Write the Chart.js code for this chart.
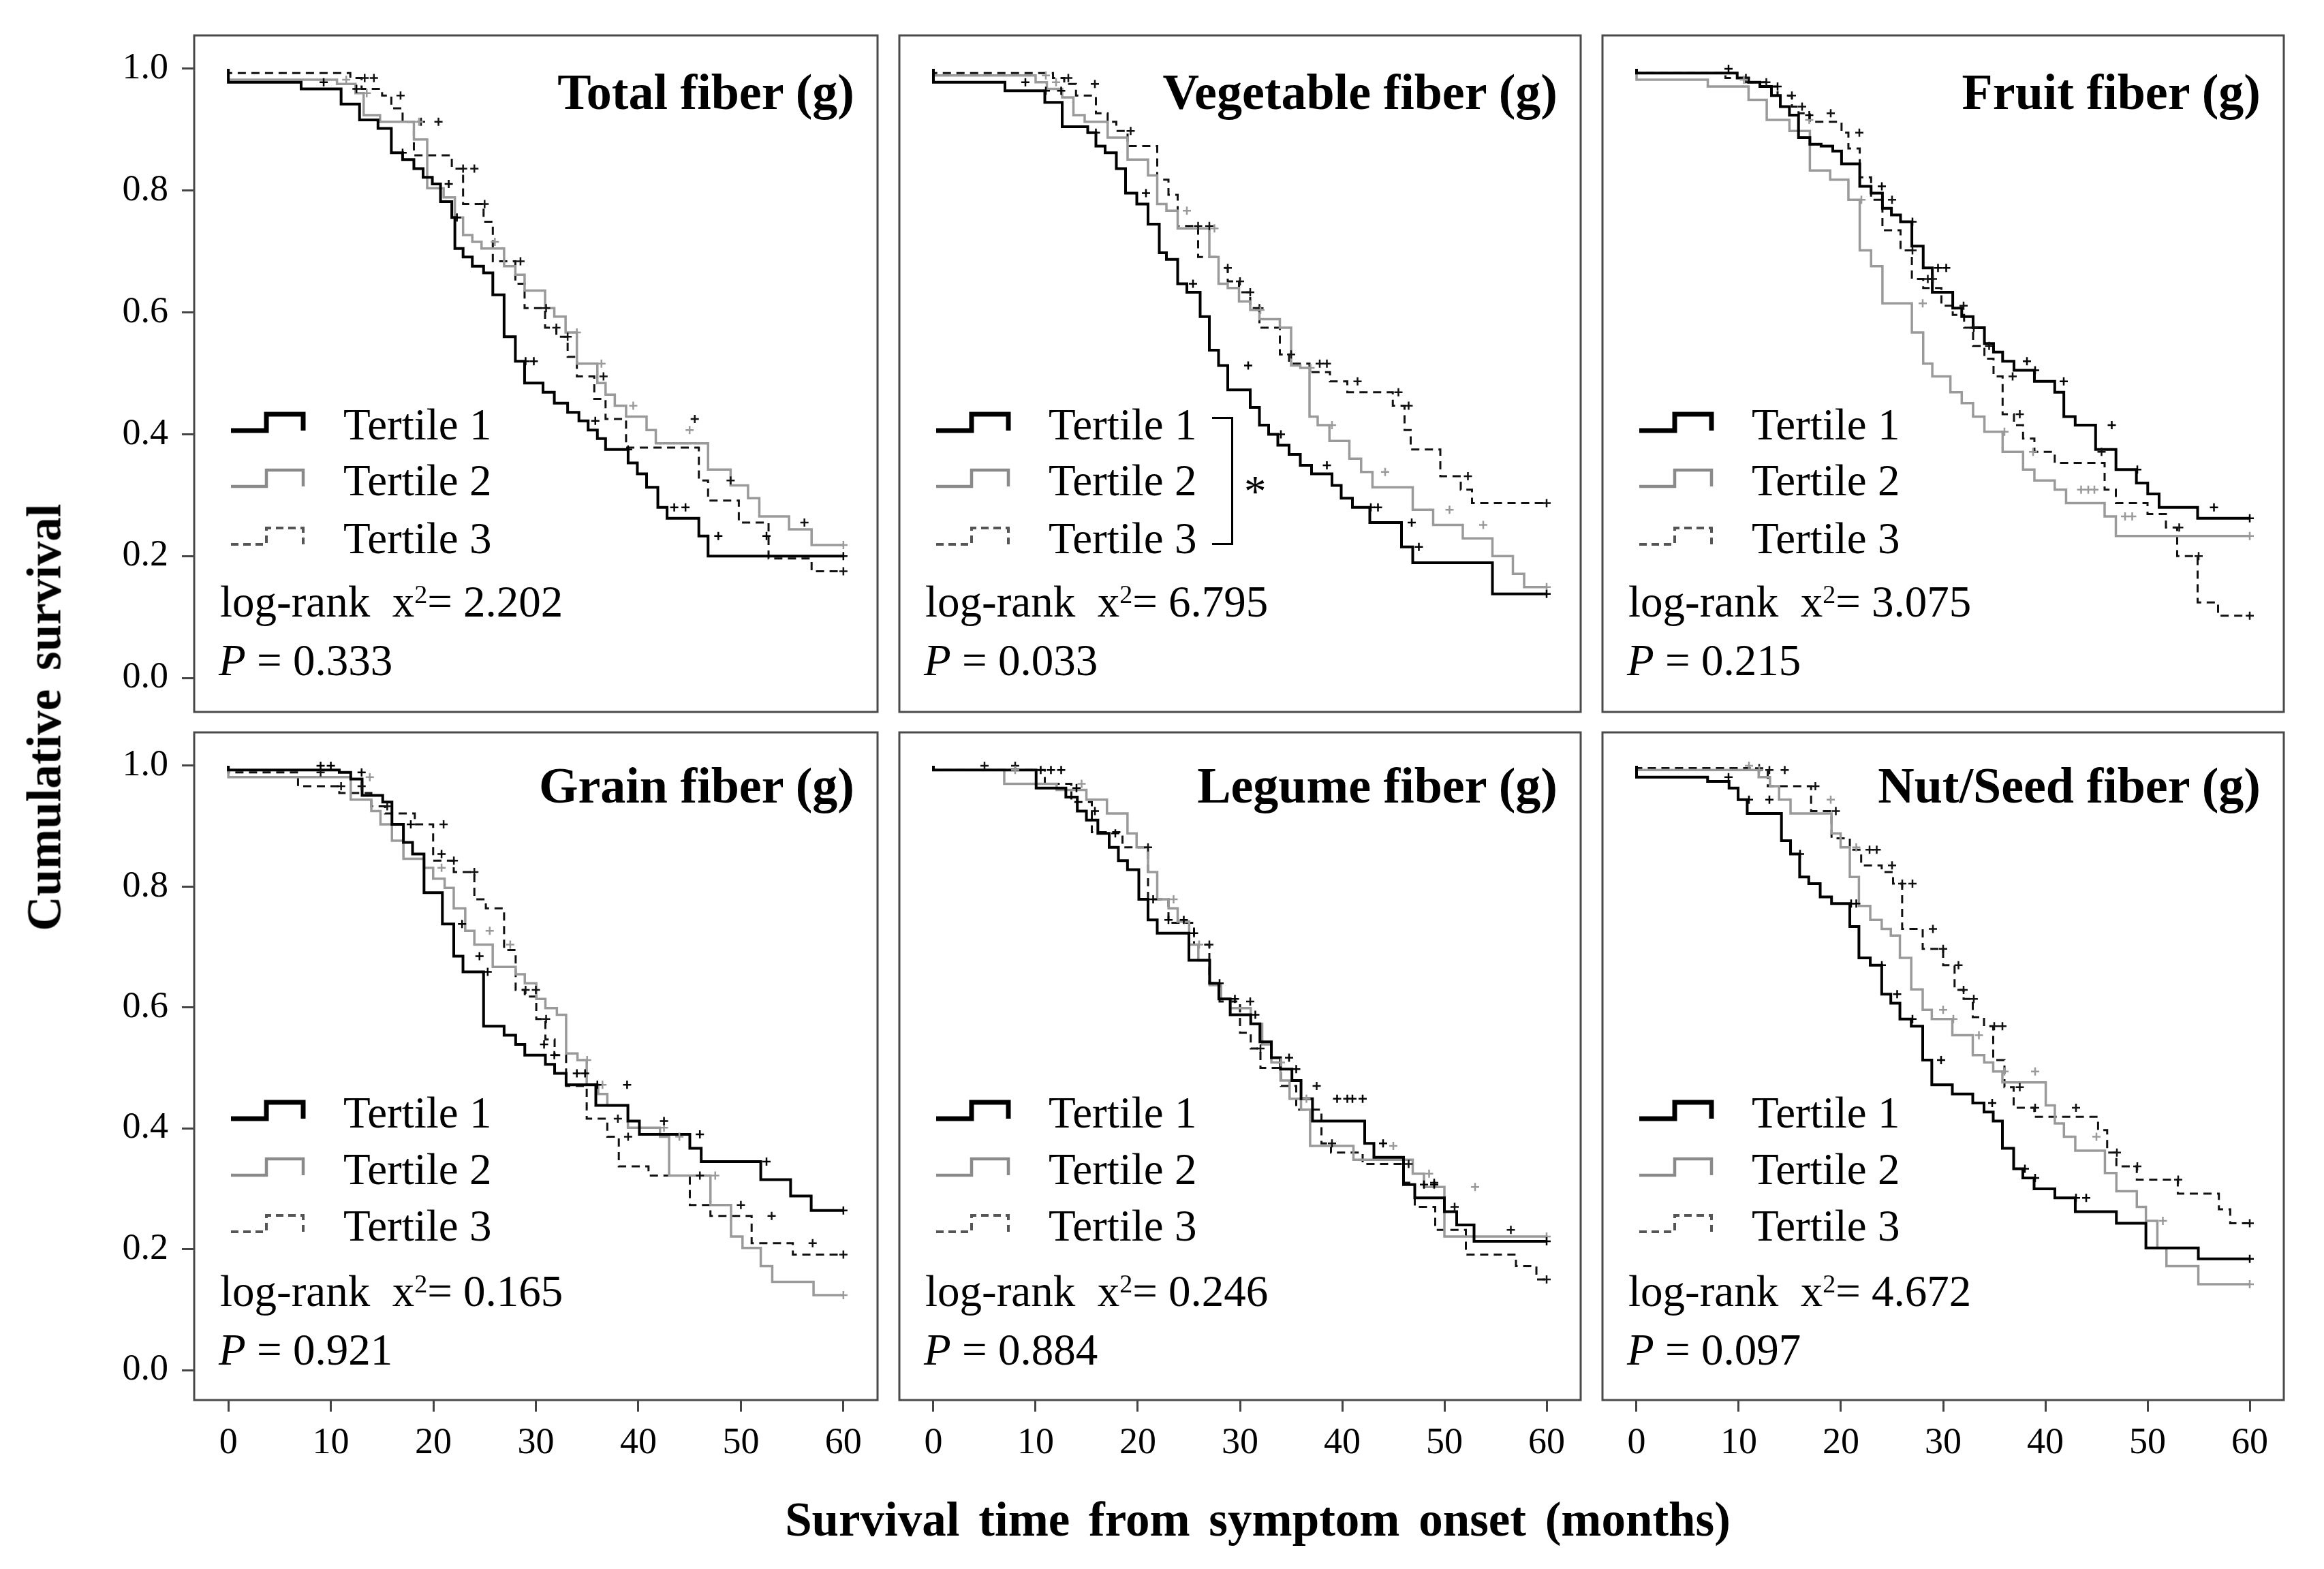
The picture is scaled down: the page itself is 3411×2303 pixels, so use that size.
<!DOCTYPE html>
<html>
<head>
<meta charset="utf-8">
<title>Cumulative survival by dietary fiber tertiles</title>
<script src="https://cdn.jsdelivr.net/npm/chart.js@4.4.1/dist/chart.umd.min.js"></script>
<style>
  html, body { margin:0; padding:0; background:#fff; }
  body { width:3411px; height:2303px; position:relative; overflow:hidden;
         font-family:'Liberation Serif','Times New Roman',serif; color:#000; }
  canvas.panel { position:absolute; }
  .t { position:absolute; white-space:pre; line-height:1; }
  .title { font-weight:bold; font-size:74px; text-align:right; }
  .leg, .stat { font-size:65px; }
  .sup { font-size:38px; vertical-align:20px; line-height:0; }
  .axt { font-weight:bold; font-size:71px; word-spacing:10px; }
  .bracket { position:absolute; border:3px solid #000; border-left:none; box-sizing:border-box; }
</style>
</head>
<body>
<script>
// ---------------- DATA ----------------
const xTickValues = [0, 10, 20, 30, 40, 50, 60];
const yTickValues = [0, 0.2, 0.4, 0.6, 0.8, 1.0];
const panelTitles = ['Total fiber (g)', 'Vegetable fiber (g)', 'Fruit fiber (g)',
                     'Grain fiber (g)', 'Legume fiber (g)', 'Nut/Seed fiber (g)'];
const seriesNames = ['Tertile 1', 'Tertile 2', 'Tertile 3'];
const chiSquare = ['2.202', '6.795', '3.075', '0.165', '0.246', '4.672'];
const pValues   = ['0.333', '0.033', '0.215', '0.921', '0.884', '0.097'];
const xAxisTitle = 'Survival time from symptom onset (months)';
const yAxisTitle = 'Cumulative survival';

// Total fiber
const totalT1Time = [0,7.1,11.0,12.8,14.6,15.9,17.0,18.1,19.0,19.9,20.7,21.8,22.1,22.9,23.8,24.9,25.8,26.9,28.0,28.9,30.7,31.8,33.1,34.2,35.1,36.0,36.8,39.0,39.9,40.8,41.9,42.8,45.9,46.8,54.7,60];
const totalT1Surv = [1,.978,.967,.942,.916,.902,.862,.851,.836,.822,.811,.782,.756,.705,.691,.676,.665,.629,.56,.52,.484,.469,.451,.436,.422,.407,.393,.375,.353,.335,.313,.28,.262,.233,.2,.2];
const totalT1Cens = [9.3,12.5,17.0,21.5,22.3,29.0,29.8,35.8,39.0,43.5,44.6,47.8,52.5,60];
const totalT2Time = [0,10.6,12.4,13.2,14.8,18.1,19.4,21.0,22.1,22.9,23.8,24.7,26.9,28.0,28.9,30.9,31.8,32.9,34.0,36.0,36.8,37.7,38.8,40.8,41.7,46.8,49.0,50.7,51.8,54.7,56.9,59.8,60];
const totalT2Surv = [1,.982,.975,.96,.924,.913,.884,.804,.789,.756,.727,.716,.705,.676,.662,.636,.607,.593,.567,.516,.484,.465,.447,.429,.407,.385,.342,.316,.295,.265,.244,.218,.218];
const totalT2Cens = [11.5,13.5,18.6,26.0,34.0,36.4,39.5,45.0,60];
const totalT3Time = [0,11.9,13.0,15.0,15.9,17.0,18.1,21.8,22.9,24.9,25.8,28.0,28.9,30.9,32.0,33.1,34.0,35.7,36.8,38.8,45.9,46.8,49.8,52.7,56.9,57.8,60];
const totalT3Surv = [1,.993,.985,.967,.956,.935,.913,.858,.836,.778,.749,.684,.647,.607,.575,.56,.527,.495,.458,.425,.378,.324,.291,.255,.196,.175,.175];
const totalT3Cens = [13.3,14.2,16.8,18.8,20.5,22.9,24.0,25.0,28.5,31.0,32.0,33.1,36.6,45.5,49.0,56.2,60];

// Vegetable fiber
const vegT1Time = [0,7.0,10.9,12.6,15.1,15.9,16.8,17.9,18.8,19.9,21.0,22.1,22.8,23.9,24.8,26.1,27.0,27.9,28.8,31.0,31.9,32.8,33.7,34.8,35.9,37.0,39.0,39.9,41.0,42.7,45.8,46.9,54.7,56.7,60];
const vegT1Surv = [1,.978,.964,.945,.905,.895,.873,.862,.836,.796,.778,.745,.698,.687,.647,.633,.593,.538,.513,.473,.444,.415,.40,.382,.367,.349,.335,.316,.295,.28,.255,.215,.189,.138,.138];
const vegT1Cens = [9.0,11.0,12.5,15.9,20.8,25.4,30.8,34.0,38.5,42.8,43.5,46.8,47.5,60];
const vegT2Time = [0,10.0,11.1,12.6,13.7,14.8,17.05,19.0,21.0,21.9,22.8,23.9,27.0,27.9,28.8,29.9,31.0,31.9,33.9,35.0,35.9,36.8,37.6,38.75,40.7,41.85,42.96,46.9,48.9,51.8,54.7,56.7,57.8,59.8,60];
const vegT2Surv = [1,.989,.978,.967,.953,.924,.913,.887,.851,.825,.778,.767,.738,.691,.647,.64,.618,.604,.589,.575,.513,.509,.429,.415,.389,.36,.338,.313,.276,.251,.229,.2,.171,.149,.149];
const vegT2Cens = [11.0,12.0,24.8,27.5,32.0,36.9,39.0,44.2,50.5,53.8,60];
const vegT3Time = [0,11.7,12.8,13.95,15.9,17.05,17.9,19.0,21.9,23.0,23.9,25.9,27.9,28.8,29.9,31.0,31.9,33.9,34.8,36.8,38.8,40.5,44.95,46.1,46.7,49.6,51.6,52.7,54.7,60];
const vegT3Surv = [1,.993,.985,.975,.956,.927,.913,.898,.873,.818,.793,.742,.691,.673,.651,.633,.607,.575,.531,.516,.502,.487,.469,.447,.407,.375,.331,.309,.287,.287];
const vegT3Cens = [13.2,15.8,19.3,25.9,27.0,28.8,30.0,31.0,31.9,35.0,37.8,38.5,41.5,45.5,46.5,52.3,60];

// Fruit fiber
const fruitT1Time = [0,9.85,10.96,12.07,13.2,14.07,14.96,15.85,16.96,18.06,19.2,20.06,21.84,22.95,24.06,24.94,25.83,26.94,28.05,28.94,30.94,31.82,32.93,34.04,34.93,35.82,36.93,38.93,40.92,41.81,42.92,44.92,46.91,48.91,50.02,51.13,54.9,59.8,60];
const fruitT1Surv = [1,.993,.985,.978,.971,.956,.938,.924,.887,.876,.873,.865,.844,.807,.796,.771,.76,.749,.709,.673,.633,.607,.593,.575,.549,.535,.52,.505,.487,.469,.429,.415,.375,.342,.32,.302,.28,.262,.262];
const fruitT1Cens = [9.0,13.8,16.9,24.0,27.0,29.5,30.3,38.2,39.0,41.8,46.5,49.0,56.5,60];
const fruitT2Time = [0,6.97,10.96,12.74,14.96,16.96,18.95,20.73,21.84,22.95,24.06,26.94,28.05,28.94,30.71,31.82,32.93,34.04,35.82,37.82,38.93,40.92,42.03,45.8,46.9,51.8,60];
const fruitT2Surv = [1,.982,.971,.949,.916,.898,.833,.818,.785,.702,.676,.615,.567,.516,.495,.469,.451,.429,.404,.371,.342,.324,.309,.287,.265,.233,.233];
const fruitT2Cens = [10.5,16.9,22.0,28.0,36.0,38.8,43.5,44.2,44.8,47.8,48.5,60];
const fruitT3Time = [0,8.7,10.7,12.7,13.8,15.2,15.85,16.96,20.06,20.73,21.84,22.95,24.06,25.83,26.94,28.05,29.83,30.94,32.05,32.93,34.04,34.93,35.82,36.93,37.82,38.93,40.92,45.8,46.9,50.0,51.8,52.9,54.9,56.9,57.8,60];
const fruitT3Surv = [1,.993,.985,.978,.971,.956,.938,.927,.913,.895,.869,.822,.785,.735,.702,.655,.64,.611,.596,.575,.545,.524,.495,.433,.415,.393,.371,.353,.309,.287,.269,.247,.2,.124,.102,.102];
const fruitT3Cens = [10.7,12.7,15.2,16.2,19.0,21.8,25.0,27.0,28.5,29.0,32.0,33.0,34.5,36.8,37.5,45.5,53.1,55.0,60];

// Grain fiber
const grainT1Time = [0,10.82,11.94,13.05,15.06,15.96,17.08,17.97,19.09,20.88,21.99,22.89,24.9,26.9,28.03,28.92,30.93,31.83,32.95,35.85,38.98,40.1,45.02,46.13,51.94,54.85,56.86,57.98,60];
const grainT1Surv = [1,.993,.989,.978,.951,.94,.903,.873,.854,.79,.738,.685,.659,.569,.554,.539,.521,.506,.491,.472,.438,.412,.39,.367,.345,.315,.288,.264,.264];
const grainT1Cens = [9.0,10.0,13.0,17.8,20.8,22.8,24.5,25.3,30.8,31.8,34.0,34.8,36.0,38.9,42.5,46.0,52.5,60];
const grainT2Time = [0,11.94,13.95,14.84,15.96,17.08,19.09,19.98,21.1,21.99,23.11,24.0,25.79,28.03,28.92,30.04,30.93,32.05,32.95,34.06,34.96,36.08,36.97,38.98,42.11,43.0,47.03,49.04,50.16,51.94,53.06,57.09,59.9,60];
const grainT2Surv = [1,.981,.944,.925,.903,.876,.846,.831,.813,.798,.764,.727,.704,.667,.655,.64,.614,.599,.588,.524,.513,.472,.457,.438,.401,.386,.322,.273,.221,.202,.172,.146,.124,.124];
const grainT2Cens = [13.8,20.8,25.5,27.5,35.0,36.5,42.5,44.0,47.5,60];
const grainT3Time = [0,6.8,10.82,13.95,15.29,18.19,19.98,21.99,24.0,25.12,26.9,28.03,28.92,30.04,30.93,31.83,32.95,34.96,36.97,38.09,40.99,45.02,47.03,51.05,55.07,57.09,60];
const grainT3Surv = [1,.989,.966,.955,.933,.921,.903,.843,.824,.779,.764,.695,.629,.618,.581,.547,.521,.47,.416,.386,.337,.322,.273,.255,.21,.191,.191];
const grainT3Cens = [9.0,11.0,13.0,15.5,21.0,22.0,24.0,29.0,30.0,31.0,38.0,39.0,46.0,50.0,53.0,57.0,60];

// Legume fiber
const legumeT1Time = [0,10.05,12.96,14.08,14.97,16.09,17.2,18.1,18.99,20.1,21.0,21.9,25.0,27.03,27.93,29.04,31.05,31.95,33.07,33.96,35.08,35.97,37.09,42.2,43.1,46.0,47.1,50.0,51.2,52.9,54.96,60];
const legumeT1Surv = [1,.993,.963,.948,.925,.91,.888,.865,.843,.828,.779,.745,.723,.678,.64,.614,.588,.573,.543,.517,.498,.479,.449,.412,.375,.352,.307,.285,.262,.24,.213,.213];
const legumeT1Cens = [10.5,11.5,12.5,14.0,15.8,17.8,21.5,23.0,24.5,25.5,28.0,29.5,31.5,34.8,35.5,39.5,40.5,41.0,42.0,44.0,48.0,49.0,60];
const legumeT2Time = [0,6.93,12.06,14.97,16.98,18.99,19.88,21.0,21.9,23.01,23.9,25.02,25.92,27.03,28.15,29.04,31.05,32.17,33.07,33.96,34.85,35.97,36.86,41.1,46.9,48.0,50.0,56.97,60];
const legumeT2Surv = [1,.993,.97,.96,.944,.921,.888,.865,.824,.779,.764,.742,.704,.678,.637,.614,.599,.573,.539,.509,.479,.449,.431,.371,.348,.325,.303,.221,.221];
const legumeT2Cens = [8.0,14.5,23.5,26.0,34.0,36.5,45.0,48.5,53.0,60];
const legumeT3Time = [0,10.9,13.5,15.5,18.5,21.0,23.0,25.5,27.0,28.0,30.0,31.05,32.0,34.0,35.5,37.97,38.9,42.0,46.0,47.1,49.1,52.1,57.0,59.0,60];
const legumeT3Surv = [1,.993,.97,.94,.89,.865,.779,.74,.704,.64,.61,.558,.532,.5,.47,.431,.375,.36,.341,.31,.27,.232,.191,.172,.15];
const legumeT3Cens = [5.0,8.0,21.0,27.0,31.0,32.0,37.5,39.0,46.5,49.0,51.0,56.5,60];

// Nut/Seed fiber
const nutT1Time = [0,6.95,9.05,9.94,10.83,14.18,15.07,15.96,16.85,17.97,19.08,20.87,21.76,22.87,23.99,24.88,25.77,26.88,28.0,28.89,30.9,32.9,34.0,34.9,35.8,36.9,37.8,38.9,40.93,42.93,46.95,49.84,54.97,56.98,60];
const nutT1Surv = [1,.981,.974,.963,.944,.921,.876,.854,.816,.805,.783,.772,.734,.682,.67,.622,.607,.581,.569,.513,.472,.457,.442,.427,.412,.367,.333,.318,.3,.285,.262,.243,.202,.184,.184];
const nutT1Cens = [9.0,11.0,13.0,16.0,21.0,21.5,24.0,25.5,27.0,29.8,34.8,38.0,39.0,43.0,44.0,60];
const nutT2Time = [0,11.95,13.06,13.95,15.07,19.08,19.97,20.87,21.76,22.87,23.99,24.88,25.77,26.88,28.0,28.89,30.9,32.9,34.02,34.9,35.8,40.04,40.93,41.82,42.93,45.83,46.95,48.95,49.84,50.96,51.85,54.97,56.98,60];
const nutT2Surv = [1,.993,.981,.966,.944,.921,.888,.865,.816,.768,.745,.73,.719,.682,.63,.596,.581,.554,.521,.509,.494,.476,.438,.408,.386,.363,.326,.296,.27,.247,.202,.172,.142,.142];
const nutT2Cens = [11.0,12.0,19.0,21.5,30.0,31.0,33.5,36.0,39.0,45.0,51.5,60];
const nutT3Time = [0,11.06,12.84,17.08,19.08,20.87,21.98,23.99,25.1,25.99,28.0,30.0,31.12,32.0,32.9,34.0,34.9,36.0,36.9,38.92,45.16,46.05,46.95,48.95,52.96,56.98,58.09,60];
const nutT3Surv = [1,.996,.993,.966,.925,.88,.861,.835,.824,.805,.73,.697,.67,.629,.614,.584,.569,.513,.468,.434,.419,.397,.36,.337,.315,.292,.266,.243];
const nutT3Cens = [12.0,13.0,14.5,17.5,19.5,22.8,23.5,25.0,26.0,27.0,29.0,30.0,31.5,32.0,33.0,35.0,35.8,37.5,39.0,43.0,47.0,49.0,53.0,60];

const panelSeries = [
  [[totalT1Time,totalT1Surv,totalT1Cens],[totalT2Time,totalT2Surv,totalT2Cens],[totalT3Time,totalT3Surv,totalT3Cens]],
  [[vegT1Time,vegT1Surv,vegT1Cens],[vegT2Time,vegT2Surv,vegT2Cens],[vegT3Time,vegT3Surv,vegT3Cens]],
  [[fruitT1Time,fruitT1Surv,fruitT1Cens],[fruitT2Time,fruitT2Surv,fruitT2Cens],[fruitT3Time,fruitT3Surv,fruitT3Cens]],
  [[grainT1Time,grainT1Surv,grainT1Cens],[grainT2Time,grainT2Surv,grainT2Cens],[grainT3Time,grainT3Surv,grainT3Cens]],
  [[legumeT1Time,legumeT1Surv,legumeT1Cens],[legumeT2Time,legumeT2Surv,legumeT2Cens],[legumeT3Time,legumeT3Surv,legumeT3Cens]],
  [[nutT1Time,nutT1Surv,nutT1Cens],[nutT2Time,nutT2Surv,nutT2Cens],[nutT3Time,nutT3Surv,nutT3Cens]]
];

// ---------------- LAYOUT / STYLE ----------------
const FL = [285, 1320, 2352], FR = [1288, 2320, 3352];
const FT = [52, 1075], FB = [1045, 2055];
const YMIN = [-0.0559, -0.0496], YMAX = [1.0548, 1.0552];
const XMIN = -3.333, XMAX = 63.333;
const PAD = 10, XAXH = 120;
const ROWTXT = [
  { title: 108, legend: [593, 675, 760], lr: 853, p: 939 },
  { title: 103, legend: [580, 663, 746], lr: 842, p: 928 }
];
const LINESTY = [
  { color: '#000000', width: 4,   dash: [] },
  { color: '#9a9a9a', width: 3.5, dash: [] },
  { color: '#111111', width: 3,   dash: [12, 8] }
];
const LEGSTY = [
  { color: '#000000', width: 7,   dash: [] },
  { color: '#8a8a8a', width: 4.5, dash: [] },
  { color: '#555555', width: 4,   dash: [11, 7] }
];
const TICKFONT = { family: 'Liberation Serif', size: 54 };
const ASC = 0.8375;

function survAt(times, surv, t) {
  let s = surv[0];
  for (let i = 0; i < times.length; i++) { if (times[i] <= t) s = surv[i]; else break; }
  return s;
}

function addText(html, cls, left, baseline, fs, extraStyle) {
  const d = document.createElement('div');
  d.className = 't ' + cls;
  d.innerHTML = html;
  d.style.left = left + 'px';
  d.style.top = (baseline - ASC * fs) + 'px';
  if (extraStyle) Object.assign(d.style, extraStyle);
  document.body.appendChild(d);
  return d;
}

const framePlugin = {
  id: 'frame',
  afterDraw(chart) {
    const { ctx, chartArea: a } = chart;
    ctx.save();
    ctx.strokeStyle = '#4a4a4a';
    ctx.lineWidth = 3;
    ctx.strokeRect(a.left, a.top, a.right - a.left, a.bottom - a.top);
    const rowInfo = ROWTXT[chart.options.plugins.frame.row];
    for (let k = 0; k < 3; k++) {
      const base = a.top + rowInfo.legend[k];
      const yb = base - 13, yt = base - 37;
      const x0 = a.left + 54, xm = a.left + 106, x1 = a.left + 160;
      ctx.strokeStyle = LEGSTY[k].color;
      ctx.lineWidth = LEGSTY[k].width;
      ctx.setLineDash(LEGSTY[k].dash);
      ctx.lineJoin = 'miter';
      ctx.beginPath();
      ctx.moveTo(x0, yb); ctx.lineTo(xm, yb); ctx.lineTo(xm, yt); ctx.lineTo(x1, yt); ctx.lineTo(x1, yb);
      ctx.stroke();
    }
    ctx.restore();
  }
};

for (let p = 0; p < 6; p++) {
  const r = Math.floor(p / 3), c = p % 3;
  const L = c === 0 ? 0 : FL[c] - PAD;
  const T = FT[r] - PAD;
  const R = FR[c] + PAD;
  const B = r === 1 ? FB[r] + XAXH : FB[r] + PAD;
  const cv = document.createElement('canvas');
  cv.className = 'panel';
  cv.width = R - L; cv.height = B - T;
  cv.style.left = L + 'px'; cv.style.top = T + 'px';
  cv.style.width = (R - L) + 'px'; cv.style.height = (B - T) + 'px';
  document.body.appendChild(cv);

  const datasets = [];
  const ser = panelSeries[p];
  for (let k = 0; k < 3; k++) {
    const [tm, sv, cs] = ser[k];
    datasets.push({
      label: seriesNames[k] + ' censored',
      data: cs.map(t => ({ x: t, y: survAt(tm, sv, t) })),
      showLine: false,
      pointStyle: 'cross',
      pointRadius: 6,
      pointBorderWidth: 2.5,
      borderColor: LINESTY[k].color,
      backgroundColor: LINESTY[k].color
    });
  }
  for (let k = 0; k < 3; k++) {
    const [tm, sv] = ser[k];
    datasets.push({
      label: seriesNames[k],
      data: tm.map((t, i) => ({ x: t, y: sv[i] })),
      stepped: 'after',
      borderColor: LINESTY[k].color,
      borderWidth: LINESTY[k].width,
      borderDash: LINESTY[k].dash,
      pointRadius: 0,
      fill: false,
      tension: 0
    });
  }

  new Chart(cv, {
    type: 'line',
    data: { datasets },
    options: {
      responsive: false,
      devicePixelRatio: 1,
      animation: false,
      events: [],
      layout: { padding: { left: c === 0 ? 0 : PAD, right: PAD, top: PAD, bottom: r === 1 ? 0 : PAD } },
      plugins: { legend: { display: false }, tooltip: { enabled: false }, frame: { row: r } },
      scales: {
        x: {
          type: 'linear', min: XMIN, max: XMAX,
          display: r === 1,
          afterBuildTicks: s => { s.ticks = xTickValues.map(v => ({ value: v })); },
          afterFit: s => { if (r === 1) s.height = XAXH; s.paddingLeft = 0; s.paddingRight = 0; },
          ticks: { font: TICKFONT, color: '#000', padding: 14, maxRotation: 0, autoSkip: false,
                   callback: v => String(v) },
          grid: { display: true, drawOnChartArea: false, drawTicks: true, tickLength: 17, lineWidth: 3, color: '#444' },
          border: { display: false }
        },
        y: {
          type: 'linear', min: YMIN[r], max: YMAX[r],
          display: c === 0,
          afterBuildTicks: s => { s.ticks = yTickValues.map(v => ({ value: v })); },
          afterFit: s => { if (c === 0) s.width = FL[0]; s.paddingTop = 0; s.paddingBottom = 0; },
          ticks: { font: TICKFONT, color: '#000', padding: 20, autoSkip: false,
                   callback: v => Number(v).toFixed(1) },
          grid: { display: true, drawOnChartArea: false, drawTicks: true, tickLength: 18, lineWidth: 3, color: '#444' },
          border: { display: false }
        }
      }
    },
    plugins: [framePlugin]
  });

  const rt = ROWTXT[r];
  addText(panelTitles[p], 'title', 0, FT[r] + rt.title, 74,
          { left: 'auto', right: (3411 - (FR[c] - 34)) + 'px' });
  for (let k = 0; k < 3; k++) {
    addText(seriesNames[k], 'leg', FL[c] + 219, FT[r] + rt.legend[k], 65);
  }
  addText('log-rank  x<span class="sup">2</span>= ' + chiSquare[p], 'stat', FL[c] + 38, FT[r] + rt.lr, 65);
  addText('<i>P</i> = ' + pValues[p], 'stat', FL[c] + 36, FT[r] + rt.p, 65);

  if (p === 1) {
    const br = document.createElement('div');
    br.className = 'bracket';
    Object.assign(br.style, { left: (FL[c] + 459) + 'px', top: (FT[r] + 560) + 'px', width: '31px', height: '188px' });
    document.body.appendChild(br);
    addText('*', 'leg', FL[c] + 506, FT[r] + 691, 65);
  }
}

const yt = document.createElement('div');
yt.className = 't axt';
yt.textContent = yAxisTitle;
Object.assign(yt.style, { left: '65px', top: '1053px', transform: 'translate(-50%,-50%) rotate(-90deg)' });
document.body.appendChild(yt);

const xt = addText(xAxisTitle, 'axt', 1846, 2254, 71);
xt.style.transform = 'translateX(-50%)';
</script>
</body>
</html>
